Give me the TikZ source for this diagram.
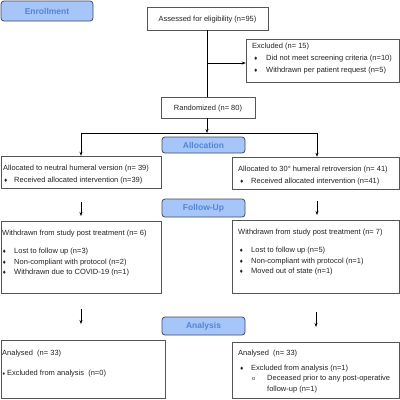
\documentclass[tikz,border=0pt]{standalone}
\usepackage{fontspec}
\setmainfont{Liberation Sans}
\newfontfamily\dejavu{DejaVu Sans}
\usetikzlibrary{arrows.meta}
\definecolor{lblfill}{RGB}{166,198,250}
\definecolor{lbltext}{RGB}{84,132,210}
\definecolor{lbldraw}{RGB}{62,72,100}
\definecolor{boxdraw}{RGB}{85,85,85}
\definecolor{txt}{RGB}{35,35,35}
\newcommand{\bul}{{\dejavu\fontsize{5}{5}\selectfont ♦}}
\begin{document}
\begin{tikzpicture}[x=1pt,y=-1pt,
  lbl/.style={draw=lbldraw,fill=lblfill,rounded corners=3pt,line width=0.8pt,
    text=lbltext,font=\fontsize{8.5}{10}\selectfont\bfseries,inner sep=0pt},
  box/.style={draw=boxdraw,line width=0.7pt},
  tx/.style={anchor=base west,inner sep=0pt,text=txt,font=\fontsize{7.5}{8}\selectfont},
  ctx/.style={anchor=base,inner sep=0pt,text=txt,font=\fontsize{7.5}{8}\selectfont},
  arr/.style={-{Stealth[length=4pt,width=3pt]},line width=0.7pt,draw=black},
  ln/.style={line width=0.7pt,draw=black}]
\useasboundingbox (0,0) rectangle (400,400);
% label boxes
\node[lbl,minimum width=92pt,minimum height=20pt] (enr) at (47,11) {Enrollment};
\node[lbl,minimum width=83pt,minimum height=16pt] (alloc) at (203.5,145) {Allocation};
\node[lbl,minimum width=83pt,minimum height=18pt] (fu) at (203.5,208) {Follow-Up};
\node[lbl,minimum width=83pt,minimum height=18pt] (ana) at (203.5,326) {Analysis};
% boxes
\draw[box] (147,7) rectangle (268,30);
\node[inner sep=0pt,minimum width=121pt,minimum height=23pt] (ass) at (207.5,18.5) {};
\node[ctx] (asst) at (207.5,21) {Assessed for eligibility (n=95)};
\draw[box] (246,39) rectangle (399,82);
\node[inner sep=0pt,minimum width=153pt,minimum height=43pt] (exc) at (322.5,60.5) {};
\node[tx] (exc1) at (252,48) {Excluded (n= 15)};
\node[tx] (exc2b) at (253.5,60) {\bul};
\node[tx] (exc2) at (266,60) {Did not meet screening criteria (n=10)};
\node[tx] (exc3b) at (253.5,72) {\bul};
\node[tx] (exc3) at (266,72) {Withdrawn per patient request (n=5)};
\draw[box] (161,97) rectangle (255,118);
\node[inner sep=0pt,minimum width=94pt,minimum height=21pt] (rand) at (208,107.5) {};
\node[ctx] (randt) at (208,110.5) {Randomized (n= 80)};
% allocation boxes
\draw[box] (1,156) rectangle (161,188);
\node[inner sep=0pt,minimum width=160pt,minimum height=32pt] (al) at (81,172) {};
\node[tx] (al1) at (3,170) {Allocated to neutral humeral version (n= 39)};
\node[tx] (al2b) at (3.5,182) {\bul};
\node[tx] (al2) at (14,182) {Received allocated intervention (n=39)};
\draw[box] (232,157) rectangle (399,189);
\node[inner sep=0pt,minimum width=167pt,minimum height=32pt] (ar) at (315.5,173) {};
\node[tx] (ar1) at (238,171) {Allocated to 30° humeral retroversion (n= 41)};
\node[tx] (ar2b) at (239.5,183) {\bul};
\node[tx] (ar2) at (251,183) {Received allocated intervention (n=41)};
% follow-up boxes
\draw[box] (1,221) rectangle (161,293);
\node[inner sep=0pt,minimum width=160pt,minimum height=72pt] (fl) at (81,257) {};
\node[tx] (fl1) at (2,235) {Withdrawn from study post treatment (n= 6)};
\node[tx] (fl2b) at (2,253) {\bul};
\node[tx] (fl2) at (14,253) {Lost to follow up (n=3)};
\node[tx] (fl3b) at (2,264) {\bul};
\node[tx] (fl3) at (14,264) {Non-compliant with protocol (n=2)};
\node[tx] (fl4b) at (2,274) {\bul};
\node[tx] (fl4) at (14,274) {Withdrawn due to COVID-19 (n=1)};
\draw[box] (232,220) rectangle (399,293);
\node[inner sep=0pt,minimum width=167pt,minimum height=73pt] (fr) at (315.5,256.5) {};
\node[tx] (fr1) at (238,234) {Withdrawn from study post treatment (n= 7)};
\node[tx] (fr2b) at (239,252) {\bul};
\node[tx] (fr2) at (251,252) {Lost to follow up (n=5)};
\node[tx] (fr3b) at (239,263) {\bul};
\node[tx] (fr3) at (251,263) {Non-compliant with protocol (n=1)};
\node[tx] (fr4b) at (239,273) {\bul};
\node[tx] (fr4) at (251,273) {Moved out of state (n=1)};
% analysis boxes
\draw[box] (1,340) rectangle (165,398);
\node[inner sep=0pt,minimum width=164pt,minimum height=58pt] (nl) at (83,369) {};
\node[tx] (nl1) at (2,355) {Analysed\ \ (n= 33)};
\node[tx] (nl2) at (2,375) {{\dejavu\fontsize{4}{4}\selectfont ♦}\,Excluded from analysis\ \ (n=0)};
\draw[box] (232,342) rectangle (399,398);
\node[inner sep=0pt,minimum width=167pt,minimum height=56pt] (nr) at (315.5,370) {};
\node[tx] (nr1) at (238,355) {Analysed\ \ (n= 33)};
\node[tx] (nr2b) at (239.5,370) {\bul};
\node[tx] (nr2) at (251,370) {Excluded from analysis (n=1)};
\node[tx,font=\fontsize{5.5}{6}\selectfont] (nr3b) at (252,380) {o};
\node[tx] (nr3) at (267,380) {Deceased prior to any post-operative};
\node[tx] (nr4) at (267,391) {follow-up (n=1)};
% connectors
\coordinate (j1) at (207,63);
\coordinate (j2) at (207,133);
\coordinate (jl) at (81,133);
\coordinate (jr) at (317,133);
\draw[ln] (ass.south -| j1) -- (rand.north -| j1);
\draw[arr] (j1) -- (exc.west |- j1);
\draw[arr] (rand.south -| j2) -- (j2);
\draw[ln] (jl) -- (jr);
\draw[arr] (jl) -- (al.north -| jl);
\draw[arr] (jr) -- (ar.north -| jr);
\coordinate (a1s) at (81,202);
\coordinate (a1e) at (81,216);
\coordinate (a2s) at (317,201);
\coordinate (a2e) at (317,215);
\coordinate (a3s) at (81,309);
\coordinate (a3e) at (81,324);
\coordinate (a4s) at (316,312);
\coordinate (a4e) at (316,327);
\draw[arr] (a1s) -- (a1e);
\draw[arr] (a2s) -- (a2e);
\draw[arr] (a3s) -- (a3e);
\draw[arr] (a4s) -- (a4e);
\end{tikzpicture}
\end{document}
